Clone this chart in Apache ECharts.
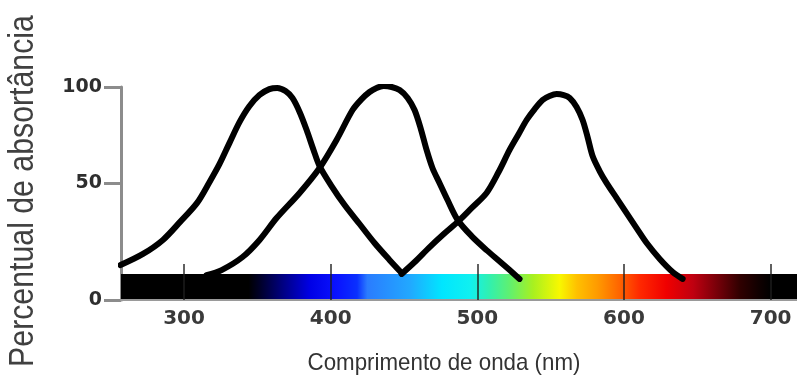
<!DOCTYPE html>
<html><head><meta charset="utf-8">
<script src="https://cdn.jsdelivr.net/npm/echarts@6/dist/echarts.min.js"></script>
<style>html,body{margin:0;padding:0;background:#fff}#c{width:797px;height:385px}</style>
</head><body><div id="c"></div>
<script>
// ---- data ----
const uvWavelength   = [256.7, 272.0, 285.6, 297.3, 308.9, 317.4, 324.2, 331.0, 337.8, 344.5, 351.4, 358.2, 363.6, 369.2, 373.9, 378.8, 383.6, 388.3, 392.4, 400.6, 409.5, 419.7, 429.9, 440.1, 448.4];
const uvAbsorbance   = [7.2, 13.0, 20.3, 29.7, 39.6, 50.5, 59.9, 70.9, 81.7, 90.0, 95.8, 98.9, 99.5, 97.9, 94.3, 87.0, 77.6, 67.2, 58.8, 48.4, 38.5, 28.6, 18.7, 9.9, 3.1];
const blueWavelength = [315.3, 325.6, 339.9, 351.5, 363.1, 378.8, 392.4, 404.0, 414.9, 421.1, 426.5, 431.3, 436.1, 441.6, 447.0, 452.5, 457.2, 461.3, 465.4, 469.4, 474.2, 479.7, 486.6, 496.1, 506.3, 516.5, 528.8];
const blueAbsorbance = [2.0, 4.6, 11.4, 20.3, 31.7, 44.8, 57.8, 72.4, 88.0, 93.7, 97.4, 99.5, 100.5, 100.0, 98.4, 94.3, 88.0, 78.6, 67.2, 57.8, 50.0, 41.1, 30.7, 22.3, 15.0, 8.3, 0.0];
const greenWavelength = [448.4, 457.3, 467.5, 477.1, 486.6, 496.2, 506.3, 514.5, 522.0, 528.2, 533.6, 539.1, 544.5, 549.3, 554.1, 558.9, 563.0, 567.7, 571.8, 575.2, 578.6, 583.4, 588.2, 595.0, 601.8, 608.6, 615.5, 624.4, 633.2, 640.0];
const greenAbsorbance = [2.6, 8.8, 16.6, 23.4, 29.7, 37.0, 44.8, 55.7, 67.2, 75.5, 82.8, 88.5, 93.2, 95.3, 96.3, 95.8, 94.3, 89.6, 82.8, 73.9, 64.0, 56.2, 49.9, 42.1, 34.3, 26.5, 18.7, 10.4, 3.6, 0.0];

const xTickValues = [300, 400, 500, 600, 700];
const yTickValues = [-11, 50, 100];
const yTickLabels = ['0', '50', '100'];

const spectrumWavelength = [257, 344, 352, 367, 386, 405, 418, 425, 454, 476, 495, 508, 522, 538, 556, 568, 582, 597, 611, 629, 647, 665, 679, 692, 700, 718];
const spectrumColor = ['#000000', '#000000', '#00002a', '#000080', '#0000e6', '#0a14ff', '#0a30ff', '#2a7cff', '#22a8ff', '#00e6ff', '#10f0f0', '#30f0b0', '#60f070', '#a8f020', '#f8f800', '#ffc000', '#ff9a00', '#ff6400', '#ff2800', '#f00000', '#c00010', '#700008', '#300000', '#100000', '#000000', '#000000'];
const spectrumBand = [257, 718, -11, 2.5]; // from, to, bottom, top

const xTitle = 'Comprimento de onda (nm)';
const yTitle = 'Percentual de absortância';

// ---- build ----
const zip = (a, b) => a.map((v, i) => [v, b[i]]);
const xMin = 257, xMax = 718, yMin = -11, yMax = 100;
const stops = spectrumWavelength.map((w, i) => ({
  offset: (w - spectrumBand[0]) / (spectrumBand[1] - spectrumBand[0]),
  color: spectrumColor[i]
}));

const curveStyle = { color: '#000', width: 6, cap: 'round', join: 'round' };
const mkCurve = (name, data) => ({
  name, type: 'line', data, smooth: 0.3, symbol: 'none', z: 4,
  lineStyle: curveStyle, silent: true
});

const chart = echarts.init(document.getElementById('c'));
chart.setOption({
  animation: false,
  backgroundColor: '#fff',
  grid: { left: 121, right: 0, top: 87, bottom: 85, containLabel: false },
  xAxis: {
    type: 'value', min: xMin, max: xMax, z: 3,
    axisLine: { show: true, onZero: false, lineStyle: { color: '#9a9a9a', width: 2 } },
    axisTick: { show: true, customValues: xTickValues, inside: true, length: 36,
      lineStyle: { color: 'rgba(30,30,30,0.7)', width: 2 } },
    axisLabel: { customValues: xTickValues, margin: 9, fontSize: 20, fontWeight: 'bold',
      fontFamily: 'DejaVu Sans', color: '#3a3a3a' },
    splitLine: { show: false }
  },
  yAxis: {
    type: 'value', min: yMin, max: yMax,
    axisLine: { show: true, onZero: false, lineStyle: { color: '#8c8c8c', width: 3 } },
    axisTick: { show: true, customValues: yTickValues, length: 17,
      lineStyle: { color: '#8c8c8c', width: 3 } },
    axisLabel: { customValues: yTickValues, margin: 19, fontSize: 19, fontWeight: 'bold',
      fontFamily: 'DejaVu Sans', color: '#2e2e2e',
      formatter: v => {
        let best = 0;
        yTickValues.forEach((t, i) => { if (Math.abs(t - v) < Math.abs(yTickValues[best] - v)) best = i; });
        return yTickLabels[best];
      } },
    splitLine: { show: false }
  },
  graphic: [
    { type: 'text', x: 23, y: 191, rotation: Math.PI / 2, scaleX: 0.865,
      style: { text: yTitle, fontSize: 35, fontFamily: 'Liberation Sans', fill: '#404040',
        align: 'center', verticalAlign: 'middle' } },
    { type: 'text', x: 444, y: 363, scaleX: 0.93,
      style: { text: xTitle, fontSize: 24, fontFamily: 'Liberation Sans', fill: '#333',
        align: 'center', verticalAlign: 'middle' } }
  ],
  series: [
    {
      type: 'custom', z: 1, silent: true,
      data: [spectrumBand],
      encode: { x: [0, 1], y: [2, 3] },
      renderItem: (params, api) => {
        const p0 = api.coord([api.value(0), api.value(3)]);
        const p1 = api.coord([api.value(1), api.value(2)]);
        return { type: 'rect',
          shape: { x: p0[0], y: p0[1], width: p1[0] - p0[0], height: p1[1] - p0[1] },
          style: { fill: new echarts.graphic.LinearGradient(0, 0, 1, 0, stops), stroke: null, lineWidth: 0 } };
      }
    },
    mkCurve('UV', zip(uvWavelength, uvAbsorbance)),
    mkCurve('Azul', zip(blueWavelength, blueAbsorbance)),
    mkCurve('Verde', zip(greenWavelength, greenAbsorbance))
  ]
});
</script></body></html>
